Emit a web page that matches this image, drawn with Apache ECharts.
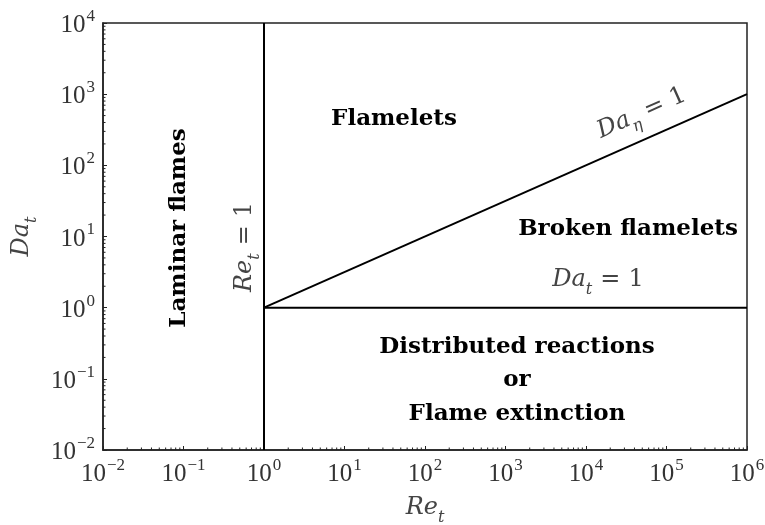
<!DOCTYPE html>
<html>
<head>
<meta charset="utf-8">
<script src="https://cdn.jsdelivr.net/npm/echarts@6/dist/echarts.min.js"></script>
<style>
  html, body { margin: 0; padding: 0; background: #ffffff; }
  #main { width: 765px; height: 525px; }
</style>
</head>
<body>
<div id="main"></div>
<script>
// Combustion regime diagram: turbulent Reynolds number vs. turbulent Damkoehler number
const reRange = [1e-2, 1e6];          // Re_t axis extent
const daRange = [1e-2, 1e4];          // Da_t axis extent

// Regime boundaries (Re_t, Da_t)
const reUnityLine = [[1, 1e-2], [1, 1e4]];      // Re_t = 1
const daUnityLine = [[1, 1], [1e6, 1]];         // Da_t = 1
const daEtaUnityLine = [[1, 1], [1e6, 1e3]];    // Da_eta = 1  (Da_t = Re_t^(1/2))

const SERIF = '"Liberation Serif", serif';
const MATH = '"DejaVu Serif", serif';
const BOLD = '"DejaVu Serif", serif';
const GREY = '#444444';

// minor tick values 2..9 x 10^k inside each decade
function minorValues(range) {
  const out = [];
  const k0 = Math.round(Math.log10(range[0]));
  const k1 = Math.round(Math.log10(range[1]));
  for (let k = k0; k < k1; k++) {
    for (let m = 2; m <= 9; m++) out.push(m * Math.pow(10, k));
  }
  return out;
}

function powerLabel(v) {
  const e = Math.round(Math.log10(v));
  const s = e < 0 ? '\u2212' + Math.abs(e) : String(e);
  return '{b|10}{s|' + s + '}';
}

const tickRich = {
  b: { fontFamily: SERIF, fontSize: 25, color: '#333', lineHeight: 30, verticalAlign: 'bottom' },
  s: { fontFamily: SERIF, fontSize: 17, color: '#333', lineHeight: 30, verticalAlign: 'top', padding: [0, 0, 0, 1] }
};

const titleRich = {
  i: { fontFamily: MATH, fontStyle: 'italic', fontSize: 24, color: GREY, lineHeight: 30, verticalAlign: 'top' },
  t: { fontFamily: MATH, fontStyle: 'italic', fontSize: 16, color: GREY, lineHeight: 30, verticalAlign: 'bottom' }
};

const chart = echarts.init(document.getElementById('main'), null, { renderer: 'canvas' });

const lineStyle = { color: '#000', width: 2 };

chart.setOption({
  animation: false,
  backgroundColor: '#ffffff',
  grid: {
    left: 103, right: 18, top: 23, bottom: 75,
    containLabel: false, outerBoundsMode: 'none',
    show: true, borderColor: '#222', borderWidth: 1.5, backgroundColor: 'transparent'
  },
  xAxis: {
    type: 'log', logBase: 10,
    min: reRange[0], max: reRange[1], interval: 1,
    axisLine: { show: true, lineStyle: { color: '#222', width: 1.5 } },
    axisTick: { show: true, inside: true, length: 4, lineStyle: { color: '#222', width: 1 } },
    minorTick: { show: false },
    splitLine: { show: false },
    axisLabel: { margin: 7, formatter: powerLabel, rich: tickRich },
    name: '{i|Re}{t|t}',
    nameLocation: 'middle',
    nameGap: 46,
    nameTextStyle: { rich: titleRich }
  },
  yAxis: {
    type: 'log', logBase: 10,
    min: daRange[0], max: daRange[1], interval: 1,
    axisLine: { show: true, lineStyle: { color: '#222', width: 1.5 } },
    axisTick: { show: true, inside: true, length: 4, lineStyle: { color: '#222', width: 1 } },
    minorTick: { show: false },
    splitLine: { show: false },
    axisLabel: { margin: 8, formatter: powerLabel, rich: tickRich },
    name: '{i|Da}{t|t}',
    nameLocation: 'middle',
    nameGap: 62,
    nameRotate: 90,
    nameTextStyle: { rich: titleRich }
  },
  series: [
    { type: 'line', data: reUnityLine, symbol: 'none', lineStyle: lineStyle, z: 5 },
    { type: 'line', data: daUnityLine, symbol: 'none', lineStyle: lineStyle, z: 5 },
    { type: 'line', data: daEtaUnityLine, symbol: 'none', lineStyle: lineStyle, z: 5 },
    {
      // minor ticks along the Re_t axis
      type: 'custom', clip: false, silent: true, z: 6,
      data: minorValues(reRange).map(v => [v, daRange[0]]),
      renderItem: function (params, api) {
        const p = api.coord([api.value(0), daRange[0]]);
        return { type: 'line', shape: { x1: p[0], y1: p[1], x2: p[0], y2: p[1] - 2.5 },
                 style: { stroke: '#222', lineWidth: 1 } };
      }
    },
    {
      // minor ticks along the Da_t axis
      type: 'custom', clip: false, silent: true, z: 6,
      data: minorValues(daRange).map(v => [reRange[0], v]),
      renderItem: function (params, api) {
        const p = api.coord([reRange[0], api.value(1)]);
        return { type: 'line', shape: { x1: p[0], y1: p[1], x2: p[0] + 2.5, y2: p[1] },
                 style: { stroke: '#222', lineWidth: 1 } };
      }
    }
  ]
});

// Regime names and boundary annotations
const boldStyle = { fontFamily: BOLD, fontWeight: 'bold', fontSize: 23, fill: '#000', align: 'center', verticalAlign: 'middle' };
const mathRich = {
  i: { fontFamily: MATH, fontStyle: 'italic', fontSize: 24, fill: GREY, lineHeight: 30, verticalAlign: 'top' },
  e: { fontFamily: MATH, fontSize: 24, fill: GREY, lineHeight: 30, verticalAlign: 'top', padding: [0, 8, 0, 8] },
  r: { fontFamily: MATH, fontSize: 24, fill: GREY, lineHeight: 30, verticalAlign: 'top' },
  t: { fontFamily: MATH, fontStyle: 'italic', fontSize: 16, fill: GREY, lineHeight: 30, verticalAlign: 'bottom' }
};
function mathText(x, y, text, rotation) {
  return {
    type: 'text', x: x, y: y, rotation: rotation || 0, z: 10,
    style: { text: text, rich: mathRich, align: 'center', verticalAlign: 'middle' }
  };
}
function boldText(x, y, text, rotation) {
  return { type: 'text', x: x, y: y, rotation: rotation || 0, z: 10,
           style: Object.assign({ text: text }, boldStyle) };
}

// slope of the Da_eta = 1 line on screen
const pA = chart.convertToPixel({ gridIndex: 0 }, daEtaUnityLine[0]);
const pB = chart.convertToPixel({ gridIndex: 0 }, daEtaUnityLine[1]);
const etaAngle = Math.atan2(pA[1] - pB[1], pB[0] - pA[0]);

chart.setOption({
  graphic: [
    boldText(394, 119, 'Flamelets'),
    boldText(628, 229, 'Broken flamelets'),
    boldText(517, 347, 'Distributed reactions'),
    boldText(517, 380, 'or'),
    boldText(517, 414, 'Flame extinction'),
    boldText(179, 228, 'Laminar flames', Math.PI / 2),
    mathText(248, 247, '{i|Re}{t|t}{e|=}{r|1}', Math.PI / 2),
    mathText(598, 283, '{i|Da}{t|t}{e|=}{r|1}'),
    mathText(643, 116, '{i|Da}{t|\u03b7}{e|=}{r|1}', etaAngle)
  ]
});
</script>
</body>
</html>
